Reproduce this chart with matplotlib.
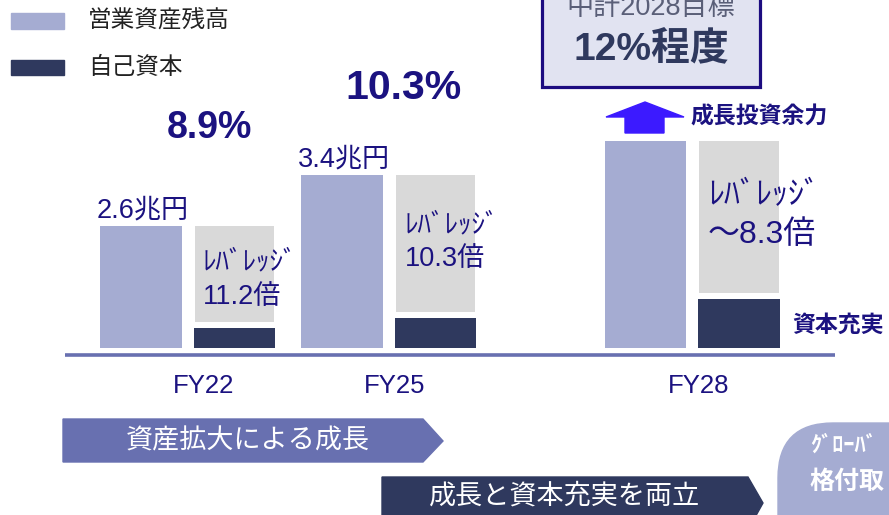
import matplotlib
matplotlib.use('Agg')
import matplotlib.pyplot as plt
from matplotlib.patches import Polygon, Rectangle, FancyBboxPatch

# data
years = ['FY22', 'FY25', 'FY28']
asset_labels = ['2.6兆円', '3.4兆円', '']
roe_labels = ['8.9%', '10.3%']
leverage_labels = ['11.2倍', '10.3倍', '～8.3倍']
# bar heights as drawn (the picture is not to scale)
asset_height = [2.6, 3.69, 4.41]
equity_height = [0.43, 0.64, 1.05]
group_pos = [0, 1, 2.51]

C_ASSET = '#a5acd2'
C_EQUITY = '#2f395e'
C_GRAY = '#d9d9d9'
C_INDIGO = '#1b1280'
C_MID = '#6870b0'
JP = ['Noto Sans CJK JP', 'DejaVu Sans']
MIX = ['Liberation Sans', 'Noto Sans CJK JP']

fig = plt.figure(figsize=(8.89, 5.15), dpi=100)

# bars
ax = fig.add_axes([0, 167 / 515, 1, 5 * 46.9 / 515])
ax.set_xlim(-141 / 201, 748 / 201)
ax.set_ylim(0, 5)
ax.axis('off')
eq_pos = [p + 0.466 for p in group_pos]
gray_bottom = [e + 0.12 for e in equity_height]
gray_height = [a - b for a, b in zip(asset_height, gray_bottom)]
ax.bar(group_pos, asset_height, width=0.403, color=C_ASSET)
ax.bar(eq_pos, gray_height, bottom=gray_bottom, width=0.395, color=C_GRAY)
ax.bar(eq_pos, equity_height, width=0.405, color=C_EQUITY)

# overlay in pixel coordinates
ov = fig.add_axes([0, 0, 1, 1])
ov.set_xlim(0, 889)
ov.set_ylim(515, 0)
ov.axis('off')
ov.patch.set_alpha(0)

# baseline
ov.plot([65, 835], [355, 355], color=C_MID, lw=2.6, solid_capstyle='butt')

# legend
ov.add_patch(Rectangle((11, 13), 53, 16, color=C_ASSET))
ov.add_patch(Rectangle((11, 60), 53, 15, color=C_EQUITY))
ov.text(88, 21, '営業資産残高', family=JP, fontsize=17, color='#222222', va='center')
ov.text(88, 68, '自己資本', family=JP, fontsize=17, color='#222222', va='center')

# year labels
for x, lab in zip([204, 395, 699], years):
    ov.text(x, 386, lab, family=MIX, fontsize=18.5, color=C_INDIGO, ha='center', va='center')

# ROE labels
ov.text(209, 128, roe_labels[0], family=MIX, fontsize=27, weight='bold', color=C_INDIGO,
        ha='center', va='center')
ov.text(403, 88, roe_labels[1], family=MIX, fontsize=29.5, weight='bold', color=C_INDIGO,
        ha='center', va='center')

# asset labels
ov.text(143, 210, asset_labels[0], family=MIX, fontsize=19.5, color=C_INDIGO, ha='center', va='center')
ov.text(344, 159, asset_labels[1], family=MIX, fontsize=19.5, color=C_INDIGO, ha='center', va='center')

# leverage labels
lev_xy = [(203, 262, 297, 19.5), (405, 225, 259, 19.5), (708, 195, 235, 23)]
for (x, y1, y2, fs), lab in zip(lev_xy, leverage_labels):
    ov.text(x, y1, 'ﾚﾊﾞﾚｯｼﾞ', family=JP, fontsize=fs, color=C_INDIGO, va='center')
    ov.text(x, y2, lab, family=MIX, fontsize=fs, color=C_INDIGO, va='center')

# target box
ov.add_patch(Rectangle((542, -10), 218, 97, facecolor='#e1e3f1', edgecolor='#1c0c80', lw=2.3))
ov.text(651, 8, '中計2028目標', family=MIX, fontsize=19.5, color='#5a5f78', ha='center', va='center')
ov.text(651, 50, '12%程度', family=MIX, fontsize=28, weight='bold', color=C_EQUITY,
        ha='center', va='center')

# growth arrow
ov.add_patch(Polygon([(625, 133), (625, 117), (606, 117), (645, 102), (684, 117),
                      (664, 117), (664, 133)], closed=True, color='#3c1aff'))
ov.text(690, 117, '成長投資余力', family=JP, fontsize=16.5, weight='bold', color=C_INDIGO, va='center')
ov.text(792, 325, '資本充実', family=JP, fontsize=16.5, weight='bold', color=C_INDIGO, va='center')

# chevrons
ov.add_patch(Polygon([(63, 419), (423, 419), (443, 441), (423, 462), (63, 462)],
                     closed=True, color=C_MID))
ov.text(248, 441, '資産拡大による成長', family=JP, fontsize=19.5, color='white', ha='center', va='center')
ov.add_patch(Polygon([(382, 477), (748, 477), (763, 503), (748, 530), (382, 530)],
                     closed=True, color=C_EQUITY))
ov.text(565, 496, '成長と資本充実を両立', family=JP, fontsize=19.5, color='white', ha='center', va='center')

# rounded badge at right
ov.add_patch(FancyBboxPatch((828, 473), 150, 100, boxstyle='round,pad=50,rounding_size=55',
                            color=C_ASSET, clip_on=False))
ov.text(810, 445, 'ｸﾞﾛｰﾊﾞ', family=JP, fontsize=16, weight='bold', color='white', va='center')
ov.text(809, 482, '格付取', family=JP, fontsize=18, weight='bold', color='white', va='center')

fig.savefig('out.png', dpi=100)
